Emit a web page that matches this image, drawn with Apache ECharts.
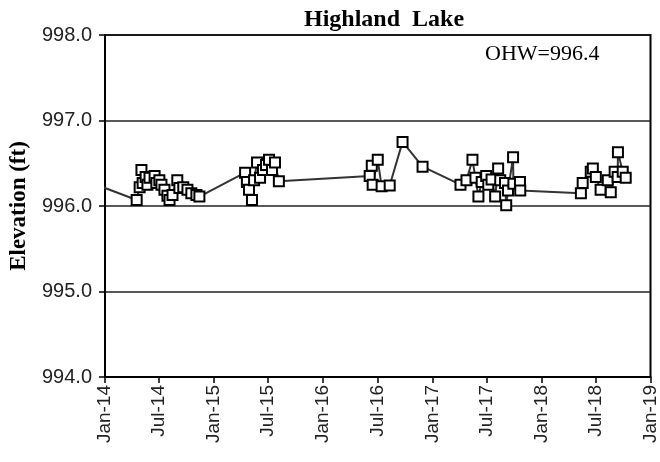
<!DOCTYPE html>
<html>
<head>
<meta charset="utf-8">
<script src="https://cdn.jsdelivr.net/npm/echarts@6/dist/echarts.min.js"></script>
<style>
  html, body { margin: 0; padding: 0; background: #fff; }
  #main { width: 660px; height: 462px; }
</style>
</head>
<body>
<div id="main"></div>
<script>
// sample dates (first one sits just before the axis start, so only its segment shows)
const dates = [
  '2013-11-10',
  '2014-04-17', '2014-04-27', '2014-05-03', '2014-05-07', '2014-05-17', '2014-05-23', '2014-05-30',
  '2014-06-16', '2014-06-22', '2014-07-02', '2014-07-09', '2014-07-19', '2014-07-29', '2014-08-05',
  '2014-08-15', '2014-08-31', '2014-09-07', '2014-09-20', '2014-10-04', '2014-10-17', '2014-11-03', '2014-11-13',
  '2015-04-15', '2015-04-21', '2015-04-28', '2015-05-08', '2015-05-15', '2015-05-25', '2015-06-04',
  '2015-06-14', '2015-06-24', '2015-07-04', '2015-07-14', '2015-07-24', '2015-08-06',
  '2016-06-05', '2016-06-12', '2016-06-15', '2016-07-02', '2016-07-15', '2016-08-11', '2016-09-23', '2016-11-29',
  '2017-04-05', '2017-04-25', '2017-05-15', '2017-05-25', '2017-06-04', '2017-06-15', '2017-06-30',
  '2017-07-07', '2017-07-18', '2017-07-30', '2017-08-09', '2017-08-16', '2017-09-01', '2017-09-05',
  '2017-09-11', '2017-09-28', '2017-09-29', '2017-10-21', '2017-10-22',
  '2018-05-13', '2018-05-19', '2018-06-15', '2018-06-22', '2018-07-02', '2018-07-18', '2018-08-11',
  '2018-08-21', '2018-09-03', '2018-09-13', '2018-09-14', '2018-09-30', '2018-10-10'
]
// lake elevation (ft)
const elevation = [
  996.28,
  996.07, 996.22, 996.42, 996.27, 996.34, 996.25, 996.33,
  996.35, 996.27, 996.30, 996.25, 996.19, 996.12, 996.07,
  996.13, 996.30, 996.21, 996.22, 996.19, 996.15, 996.13, 996.11,
  996.39, 996.28, 996.19, 996.07, 996.30, 996.51, 996.33,
  996.42, 996.48, 996.54, 996.42, 996.51, 996.29,
  996.35, 996.47, 996.25, 996.54, 996.23, 996.24, 996.75, 996.46,
  996.25, 996.30, 996.54, 996.33, 996.11, 996.28, 996.35,
  996.25, 996.31, 996.11, 996.44, 996.30, 996.27, 996.01,
  996.18, 996.57, 996.26, 996.28, 996.18,
  996.15, 996.27, 996.40, 996.44, 996.34, 996.19, 996.30,
  996.16, 996.40, 996.34, 996.63, 996.40, 996.33, 996.28
]
const tickDates = [
  '2014-01-01', '2014-07-01', '2015-01-01', '2015-07-01', '2016-01-01', '2016-07-01',
  '2017-01-01', '2017-07-01', '2018-01-01', '2018-07-01', '2019-01-01'
]
const monthNames = ['Jan', 'Feb', 'Mar', 'Apr', 'May', 'Jun', 'Jul', 'Aug', 'Sep', 'Oct', 'Nov', 'Dec']

const toTime = d => Date.UTC(+d.slice(0, 4), +d.slice(5, 7) - 1, +d.slice(8, 10))
const tickValues = tickDates.map(toTime)
const points = dates.map((d, i) => [toTime(d), elevation[i]])

const chart = echarts.init(document.getElementById('main'))
const option = {
  animation: false,
  title: {
    text: 'Highland  Lake',
    left: 379,
    textAlign: 'center',
    top: 3,
    textStyle: { fontFamily: 'Liberation Serif', fontSize: 24, fontWeight: 'bold', color: '#000' }
  },
  grid: {
    left: 105, right: 7, top: 35, bottom: 85,
    show: true, borderColor: '#000', borderWidth: 2, backgroundColor: 'transparent'
  },
  xAxis: {
    type: 'value',
    min: tickValues[0],
    max: tickValues[tickValues.length - 1],
    axisLine: { lineStyle: { color: '#000', width: 2 } },
    axisTick: { customValues: tickValues, length: 6, lineStyle: { color: '#000', width: 1.5 } },
    axisLabel: {
      customValues: tickValues,
      rotate: 90,
      margin: 8,
      color: '#222',
      fontFamily: 'Liberation Sans',
      fontSize: 19,
      formatter: function (v) {
        const d = new Date(v)
        return monthNames[d.getUTCMonth()] + '-' + String(d.getUTCFullYear()).slice(2)
      }
    },
    splitLine: { show: false }
  },
  yAxis: {
    type: 'value',
    min: 994,
    max: 998,
    interval: 1,
    name: 'Elevation (ft)',
    nameLocation: 'middle',
    nameGap: 74,
    nameTextStyle: { fontFamily: 'Liberation Serif', fontSize: 23, fontWeight: 'bold', color: '#000' },
    axisLine: { show: true, lineStyle: { color: '#000', width: 2 } },
    axisTick: { show: true, length: 6, lineStyle: { color: '#000', width: 1.5 } },
    axisLabel: {
      color: '#222',
      fontFamily: 'Liberation Sans',
      fontSize: 20,
      margin: 13,
      formatter: v => v.toFixed(1)
    },
    splitLine: { show: true, lineStyle: { color: '#222', width: 1.5 } }
  },
  graphic: [
    {
      type: 'text',
      left: 485,
      top: 43,
      style: { text: 'OHW=996.4', fontFamily: 'Liberation Serif', fontSize: 22, fill: '#000' }
    }
  ],
  series: [
    {
      type: 'line',
      data: points,
      clip: true,
      symbol: 'emptyRect',
      symbolSize: 10,
      showAllSymbol: true,
      lineStyle: { color: '#333', width: 2 },
      itemStyle: { color: '#000', borderColor: '#000', borderWidth: 1.8 }
    }
  ]
}
chart.setOption(option)
</script>
</body>
</html>
